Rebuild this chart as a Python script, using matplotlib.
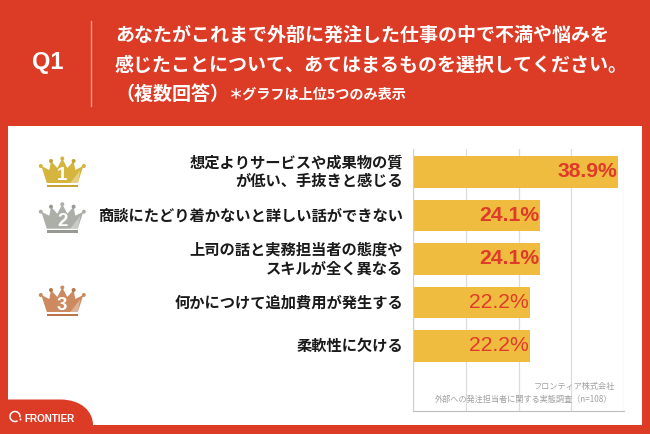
import matplotlib
matplotlib.use("Agg")
import matplotlib.pyplot as plt
from matplotlib.patches import Rectangle, Polygon, Circle, PathPatch, Arc
from matplotlib.path import Path

JP = ['Noto Sans CJK JP', 'DejaVu Sans']
plt.rcParams['font.family'] = JP

categories = ["想定よりサービスや成果物の質\nが低い、手抜きと感じる",
              "商談にたどり着かないと詳しい話ができない",
              "上司の話と実務担当者の態度や\nスキルが全く異なる",
              "何かにつけて追加費用が発生する",
              "柔軟性に欠ける"]
values = [38.9, 24.1, 24.1, 22.2, 22.2]
value_labels = ["38.9%", "24.1%", "24.1%", "22.2%", "22.2%"]
value_weights = ["bold", "bold", "bold", "normal", "normal"]
x_ticks = [0, 10, 20, 30, 40]

RED = "#DC3B26"
W, H = 650, 434
fig = plt.figure(figsize=(6.5, 4.34), dpi=100, facecolor=RED)

# page layer in pixel coordinates
bg = fig.add_axes([0, 0, 1, 1], zorder=0)
bg.set_xlim(0, W); bg.set_ylim(H, 0); bg.axis("off")
bg.add_patch(Rectangle((8, 126), 634, 299, fc="white", ec="none"))
bg.plot([90.5, 90.5], [21, 106], color="#EE9C8E", lw=1)

bg.text(47.5, 63, "Q1", color="white", fontsize=17, fontweight="bold",
        ha="center", va="center", family="Liberation Sans")
bg.text(115, 35.5, "あなたがこれまで外部に発注した仕事の中で不満や悩みを", color="white",
        fontsize=13.7, fontweight="bold", va="center", ha="left")
bg.text(115, 65.5, "感じたことについて、あてはまるものを選択してください。", color="white",
        fontsize=13.7, fontweight="bold", va="center", ha="left")
bg.text(115, 94, "（複数回答）", color="white", fontsize=13.7, fontweight="bold", va="center", ha="left")
bg.text(229, 95, "＊グラフは上位5つのみ表示", color="white", fontsize=10.2, fontweight="bold", va="center", ha="left")

# logo tab
tab = Path([(8, 399.5), (60, 399.5), (82, 399.5), (93, 412), (93, 425), (8, 425), (8, 399.5)],
           [Path.MOVETO, Path.LINETO, Path.CURVE4, Path.CURVE4, Path.CURVE4, Path.LINETO, Path.CLOSEPOLY])
bg.add_patch(PathPatch(tab, fc=RED, ec="none"))
bg.add_patch(Arc((15, 416.5), 10, 10, theta1=60, theta2=370, ec="white", lw=1.1))
bg.add_patch(Circle((20.5, 419.5), 1, fc="white", ec="none"))
bg.text(24, 419, "FRONTIER", color="white", fontsize=7.1, fontweight="bold",
        va="center", ha="left", family="Liberation Sans")

# crowns
def crown(dy, color, dark, num):
    cx, t = 62.3, 156 + dy
    pts = [(-21, 10), (-13, 14), (-11.3, 5), (-5, 12), (0, 2.5), (5, 12), (11.3, 5),
           (13, 14), (21, 10), (15.5, 27), (-15.5, 27)]
    bg.add_patch(Polygon([(cx + a, t + b) for a, b in pts], fc=color, ec="none"))
    bg.add_patch(Polygon([(cx + 18, t + 14), (cx + 8, t + 27), (cx + 15.5, t + 27)], fc="white", alpha=.35, ec="none"))
    bg.add_patch(Rectangle((cx - 15.5, t + 28.5), 31, 2.4, fc=dark, ec="none"))
    for a, b, c in [(-21.5, 10, color), (-11.3, 5, dark), (0, 2.5, color), (11.3, 5, dark), (21.5, 10, color)]:
        bg.add_patch(Circle((cx + a, t + b), 2.0, fc=c, ec="none"))
    bg.text(cx, t + 20, num, color="white", fontsize=13.5, fontweight="bold",
            ha="center", va="center", family="Liberation Sans")

crown(0, "#D6B53F", "#C5A334", "1")
crown(45.7, "#ABAFA8", "#959A92", "2")
crown(129, "#CC8A5E", "#B97548", "3")

# chart axes
x0, x1, y0, y1 = 413.3, 623.7, 149, 411
ax = fig.add_axes([x0 / W, 1 - y1 / H, (x1 - x0) / W, (y1 - y0) / H], zorder=1)
ax.patch.set_alpha(0)
positions = list(range(len(values)))
ax.barh(positions, values, height=0.725, color="#F0BC3F", zorder=2)
ax.set_xlim(x_ticks[0], x_ticks[-1])
ax.set_ylim(5.5, -0.524)
ax.set_xticks(x_ticks); ax.set_yticks([])
ax.tick_params(length=0, labelbottom=False)
ax.grid(axis="x", color="#DCDCDC", lw=0.9, zorder=1)
for s in ("top", "right"):
    ax.spines[s].set_visible(False)
ax.spines["left"].set_color("#CFCFCF"); ax.spines["left"].set_linewidth(0.8)
ax.spines["bottom"].set_color("#BDBDBD"); ax.spines["bottom"].set_linewidth(0.8)

for p, v, lab, wt, cat in zip(positions, values, value_labels, value_weights, categories):
    ax.annotate(lab, (v, p), xytext=(-0.6, 0), textcoords="offset points", ha="right", va="center",
                color="#DF3B2A", fontsize=15.2, fontweight=wt, family="Liberation Sans", zorder=3)
    ax.annotate(cat, (0, p), xytext=(-7.5, 0), textcoords="offset points", ha="right", va="center",
                color="#1A1A1A", fontsize=11, fontweight="bold", linespacing=1.25, multialignment="right")

bg2 = fig.add_axes([0, 0, 1, 1], zorder=2)
bg2.set_xlim(0, W); bg2.set_ylim(H, 0); bg2.axis("off")
bg2.text(615, 386, "フロンティア株式会社", color="#A0A0A0", fontsize=5.9, ha="right", va="center")
bg2.text(612, 399, "外部への発注担当者に関する実態調査（n=108）", color="#A0A0A0", fontsize=5.9, ha="right", va="center")

fig.savefig("out.png", dpi=100, facecolor=RED)
